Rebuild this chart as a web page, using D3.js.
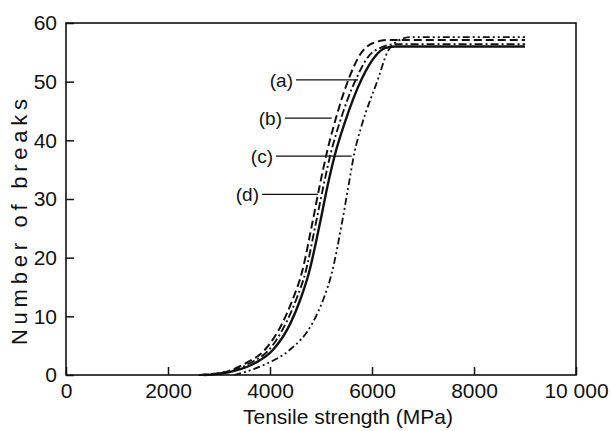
<!DOCTYPE html>
<html><head><meta charset="utf-8">
<script src="https://cdn.jsdelivr.net/npm/d3@7"></script>
<style>html,body{margin:0;padding:0;background:#fff;}svg{display:block;}</style>
</head><body>
<svg id="chart" width="611" height="431"></svg>
<script>
// ---- data (tensile strength MPa, number of breaks) ----
const seriesNames = ["solid", "dashed", "dashdot", "dashdotdot"];
const curveSolid = [[2700,0],[3000,0.2],[3300,0.7],[3700,2],[4060,4.3],[4400,8.8],[4600,13],[4760,17.3],[4980,25.9],[5130,32.3],[5290,38.1],[5450,42.6],[5800,50.5],[6060,54.3],[6250,55.7],[6450,56],[9000,56]];
const curveDashed = [[2600,0],[2900,0.2],[3200,0.7],[3520,2],[3900,4.3],[4240,8.8],[4450,13],[4620,17.3],[4830,25.9],[4975,32.3],[5120,38.1],[5255,42.6],[5545,50.5],[5780,54.8],[6000,56.5],[6300,57.1],[9000,57.1]];
const curveDashDot = [[2650,0],[2950,0.2],[3250,0.7],[3600,2],[3980,4.3],[4310,8.8],[4520,13],[4690,17.3],[4900,25.9],[5050,32.3],[5200,38.1],[5350,42.6],[5690,50.5],[5940,54.4],[6200,55.9],[6450,56.4],[9000,56.4]];
const curveDashDotDot = [[3300,0],[3540,0.6],[3950,2],[4390,4.3],[4830,8.8],[5050,13],[5210,17.3],[5410,25.9],[5540,32.3],[5660,38.1],[5800,42.6],[6120,50.5],[6300,55],[6500,56.9],[6750,57.6],[9000,57.6]];
const xTicks = [0, 2000, 4000, 6000, 8000, 10000];
const xTickLabels = ["0", "2000", "4000", "6000", "8000", "10 000"];
const yTicks = [0, 10, 20, 30, 40, 50, 60];
const labelNames = ["(a)", "(b)", "(c)", "(d)"];
const labelBreaks = [50.3, 43.8, 37.3, 30.8];
const labelStart = [4510, 4294, 4118, 3843];
const labelEnd = [5725, 5210, 5602, 4941];

// ---- layout ----
const svg = d3.select("#chart");
const x = d3.scaleLinear().domain([0, 10000]).range([66, 576]);
const y = d3.scaleLinear().domain([0, 60]).range([375, 23]);
const font = "'Liberation Sans', Arial, Helvetica, sans-serif";

const styles = {
  solid: {w: 2.4, dash: null},
  dashed: {w: 2.0, dash: "8,4"},
  dashdot: {w: 1.9, dash: "8,3,2,3"},
  dashdotdot: {w: 1.8, dash: "7,3,2,3,2,3"}
};
const curves = {solid: curveSolid, dashed: curveDashed, dashdot: curveDashDot, dashdotdot: curveDashDotDot};

const line = d3.line().x(d => x(d[0])).y(d => y(d[1])).curve(d3.curveMonotoneX);
seriesNames.forEach(n => {
  svg.append("path").datum(curves[n])
    .attr("d", line).attr("fill", "none").attr("stroke", "#111")
    .attr("stroke-width", styles[n].w)
    .attr("stroke-dasharray", styles[n].dash)
    .attr("stroke-linejoin", "round");
});

// axes (inward ticks)
const xAxis = d3.axisBottom(x).tickValues(xTicks).tickSize(-8).tickPadding(8)
  .tickFormat((d, i) => xTickLabels[i]);
const gx = svg.append("g").attr("transform", `translate(0,${y(0)})`).call(xAxis);
const yAxis = d3.axisLeft(y).tickValues(yTicks).tickSize(-8).tickPadding(9);
const gy = svg.append("g").attr("transform", `translate(${x(0)},0)`).call(yAxis);
[gx, gy].forEach(g => {
  g.select(".domain").remove();
  g.selectAll(".tick line").attr("stroke", "#111").attr("stroke-width", 1.5);
  g.selectAll(".tick text").attr("font-family", font).attr("font-size", 21).attr("fill", "#111");
});
gx.selectAll(".tick text").attr("dy", "0.71em");
// frame
svg.append("rect").attr("x", x(0)).attr("y", y(60))
  .attr("width", x(10000) - x(0)).attr("height", y(0) - y(60))
  .attr("fill", "none").attr("stroke", "#111").attr("stroke-width", 1.6);

// axis titles
svg.append("text").attr("x", 348).attr("y", 424).attr("text-anchor", "middle")
  .attr("font-family", font).attr("font-size", 21).attr("fill", "#111")
  .text("Tensile strength (MPa)");
svg.append("text").attr("transform", `translate(27,222) rotate(-90)`)
  .attr("text-anchor", "middle")
  .attr("font-family", font).attr("font-size", 22).attr("fill", "#111")
  .attr("textLength", 246).attr("lengthAdjust", "spacing")
  .text("Number of breaks");

// curve labels with leader lines
labelNames.forEach((t, i) => {
  const yy = y(labelBreaks[i]);
  svg.append("line").attr("x1", x(labelStart[i])).attr("x2", x(labelEnd[i]))
    .attr("y1", yy).attr("y2", yy).attr("stroke", "#111").attr("stroke-width", 1.3);
  svg.append("text").attr("x", x(labelStart[i]) - 3).attr("y", yy)
    .attr("dy", "0.35em").attr("text-anchor", "end")
    .attr("font-family", font).attr("font-size", 19).attr("fill", "#111").text(t);
});
</script>
</body></html>
